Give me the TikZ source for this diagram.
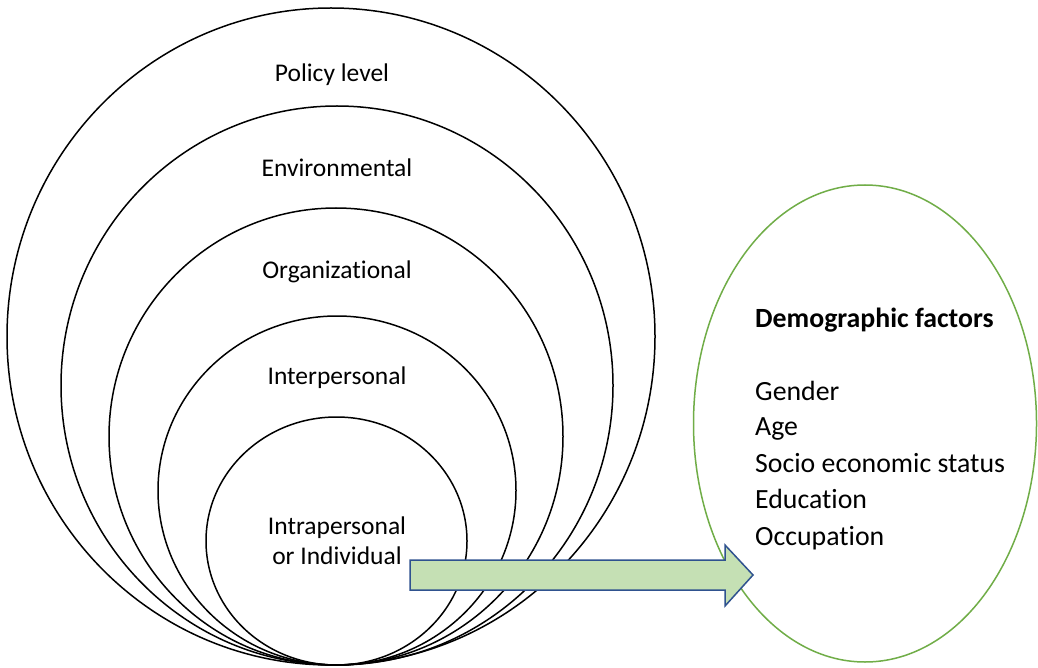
\documentclass[tikz,border=0pt]{standalone}
\usepackage{fontspec}
\setmainfont{Carlito}[Ligatures={NoCommon,NoContextual}]
\begin{document}
\begin{tikzpicture}[x=1pt,y=-1pt,
  ring/.style={draw=black,line width=1.5pt},
  factorring/.style={draw=ovalgreen,line width=1.5pt},
  flowarrow/.style={draw=arrowblue,fill=arrowfill,line width=1.5pt,line join=miter},
  levellabel/.style={anchor=base,inner sep=0pt,font=\fontsize{25.5}{30}\selectfont},
  factorlabel/.style={anchor=base west,inner sep=0pt,font=\fontsize{27.8}{33}\selectfont}]
\definecolor{ovalgreen}{HTML}{70AD47}
\definecolor{arrowblue}{HTML}{2F528F}
\definecolor{arrowfill}{HTML}{C5E0B4}
\useasboundingbox[fill=white] (0,0) rectangle (1038,668);

% nested levels, all touching at the bottom
\draw[ring] (331,336.5) ellipse (324pt and 328.5pt);
\draw[ring] (337,385.5) ellipse (276pt and 279.5pt);
\draw[ring] (336,436.5) ellipse (227pt and 228.5pt);
\draw[ring] (337,490.5) ellipse (179pt and 174.5pt);
\draw[ring] (336.5,541) ellipse (130.5pt and 124pt);

% demographic oval
\draw[factorring] (865,423.5) ellipse (171.5pt and 238.5pt);

% block arrow from the individual level to the demographic oval
\coordinate (shaftTL) at (410,560);
\coordinate (shaftBL) at (410,590);
\coordinate (tip) at (753,575);
\draw[flowarrow] (shaftTL) -- (725,560) -- (725,545) -- (tip)
  -- (725,606) -- (725,590) -- (shaftBL) -- cycle;

% level labels
\node[levellabel] (policy) at (332,82) {Policy level};
\node[levellabel] (env) at (337,177) {Environmental};
\node[levellabel] (org) at (337,279) {Organizational};
\node[levellabel] (inter) at (337,384) {Interpersonal};
\node[levellabel] (intra) at (337,534) {Intrapersonal};
\node[levellabel] (indiv) at (337,564) {or Individual};

% demographic factors
\node[factorlabel,font=\fontsize{27.8}{33}\selectfont\bfseries] (demo) at (755,327) {Demographic factors};
\node[factorlabel] (gender) at (755,400) {Gender};
\node[factorlabel] (age) at (755,435) {Age};
\node[factorlabel] (ses) at (755,472) {Socio economic status};
\node[factorlabel] (edu) at (755,508) {Education};
\node[factorlabel] (occ) at (755,545) {Occupation};
\end{tikzpicture}
\end{document}
